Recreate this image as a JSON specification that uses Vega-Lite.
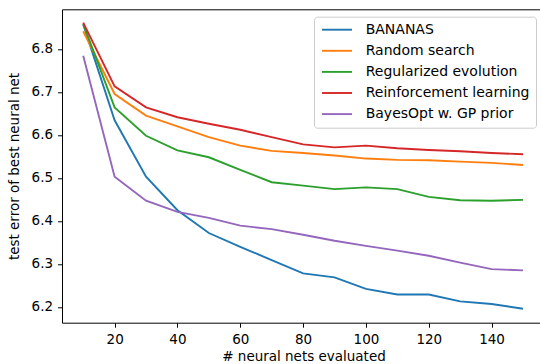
{
  "$schema": "https://vega.github.io/schema/vega-lite/v6.json",
  "autosize": "none",
  "padding": {"left": 62, "top": 9.3, "right": 0, "bottom": 42},
  "width": 483,
  "height": 313.4,
  "background": "white",
  "config": {
    "font": "DejaVu Sans",
    "view": {"stroke": "#000000", "strokeWidth": 1},
    "axis": {
      "domain": false,
      "grid": false,
      "tickColor": "#000000",
      "tickSize": 4.5,
      "tickWidth": 1,
      "labelColor": "#000000",
      "labelFont": "DejaVu Sans",
      "labelFontSize": 13.5,
      "labelPadding": 5,
      "titleColor": "#000000",
      "titleFont": "DejaVu Sans",
      "titleFontSize": 13.5,
      "titleFontWeight": "normal"
    },
    "legend": {
      "labelFont": "DejaVu Sans",
      "labelFontSize": 14,
      "labelColor": "#000000",
      "labelLimit": 400
    }
  },
  "data": {
    "values": [
      {"n": 10, "method": "BANANAS", "err": 6.857},
      {"n": 20, "method": "BANANAS", "err": 6.634},
      {"n": 30, "method": "BANANAS", "err": 6.503},
      {"n": 40, "method": "BANANAS", "err": 6.425},
      {"n": 50, "method": "BANANAS", "err": 6.372},
      {"n": 60, "method": "BANANAS", "err": 6.340},
      {"n": 70, "method": "BANANAS", "err": 6.309},
      {"n": 80, "method": "BANANAS", "err": 6.278},
      {"n": 90, "method": "BANANAS", "err": 6.269},
      {"n": 100, "method": "BANANAS", "err": 6.242},
      {"n": 110, "method": "BANANAS", "err": 6.229},
      {"n": 120, "method": "BANANAS", "err": 6.229},
      {"n": 130, "method": "BANANAS", "err": 6.213},
      {"n": 140, "method": "BANANAS", "err": 6.207},
      {"n": 150, "method": "BANANAS", "err": 6.196},
      {"n": 10, "method": "Random search", "err": 6.841},
      {"n": 20, "method": "Random search", "err": 6.695},
      {"n": 30, "method": "Random search", "err": 6.645},
      {"n": 40, "method": "Random search", "err": 6.620},
      {"n": 50, "method": "Random search", "err": 6.595},
      {"n": 60, "method": "Random search", "err": 6.575},
      {"n": 70, "method": "Random search", "err": 6.563},
      {"n": 80, "method": "Random search", "err": 6.558},
      {"n": 90, "method": "Random search", "err": 6.552},
      {"n": 100, "method": "Random search", "err": 6.545},
      {"n": 110, "method": "Random search", "err": 6.542},
      {"n": 120, "method": "Random search", "err": 6.541},
      {"n": 130, "method": "Random search", "err": 6.538},
      {"n": 140, "method": "Random search", "err": 6.535},
      {"n": 150, "method": "Random search", "err": 6.530},
      {"n": 10, "method": "Regularized evolution", "err": 6.858},
      {"n": 20, "method": "Regularized evolution", "err": 6.664},
      {"n": 30, "method": "Regularized evolution", "err": 6.598},
      {"n": 40, "method": "Regularized evolution", "err": 6.564},
      {"n": 50, "method": "Regularized evolution", "err": 6.548},
      {"n": 60, "method": "Regularized evolution", "err": 6.519},
      {"n": 70, "method": "Regularized evolution", "err": 6.490},
      {"n": 80, "method": "Regularized evolution", "err": 6.482},
      {"n": 90, "method": "Regularized evolution", "err": 6.474},
      {"n": 100, "method": "Regularized evolution", "err": 6.478},
      {"n": 110, "method": "Regularized evolution", "err": 6.474},
      {"n": 120, "method": "Regularized evolution", "err": 6.456},
      {"n": 130, "method": "Regularized evolution", "err": 6.448},
      {"n": 140, "method": "Regularized evolution", "err": 6.447},
      {"n": 150, "method": "Regularized evolution", "err": 6.449},
      {"n": 10, "method": "Reinforcement learning", "err": 6.861},
      {"n": 20, "method": "Reinforcement learning", "err": 6.713},
      {"n": 30, "method": "Reinforcement learning", "err": 6.664},
      {"n": 40, "method": "Reinforcement learning", "err": 6.641},
      {"n": 50, "method": "Reinforcement learning", "err": 6.626},
      {"n": 60, "method": "Reinforcement learning", "err": 6.612},
      {"n": 70, "method": "Reinforcement learning", "err": 6.595},
      {"n": 80, "method": "Reinforcement learning", "err": 6.578},
      {"n": 90, "method": "Reinforcement learning", "err": 6.571},
      {"n": 100, "method": "Reinforcement learning", "err": 6.575},
      {"n": 110, "method": "Reinforcement learning", "err": 6.569},
      {"n": 120, "method": "Reinforcement learning", "err": 6.565},
      {"n": 130, "method": "Reinforcement learning", "err": 6.562},
      {"n": 140, "method": "Reinforcement learning", "err": 6.558},
      {"n": 150, "method": "Reinforcement learning", "err": 6.555},
      {"n": 10, "method": "BayesOpt w. GP prior", "err": 6.784},
      {"n": 20, "method": "BayesOpt w. GP prior", "err": 6.503},
      {"n": 30, "method": "BayesOpt w. GP prior", "err": 6.447},
      {"n": 40, "method": "BayesOpt w. GP prior", "err": 6.421},
      {"n": 50, "method": "BayesOpt w. GP prior", "err": 6.407},
      {"n": 60, "method": "BayesOpt w. GP prior", "err": 6.389},
      {"n": 70, "method": "BayesOpt w. GP prior", "err": 6.381},
      {"n": 80, "method": "BayesOpt w. GP prior", "err": 6.368},
      {"n": 90, "method": "BayesOpt w. GP prior", "err": 6.354},
      {"n": 100, "method": "BayesOpt w. GP prior", "err": 6.342},
      {"n": 110, "method": "BayesOpt w. GP prior", "err": 6.331},
      {"n": 120, "method": "BayesOpt w. GP prior", "err": 6.319},
      {"n": 130, "method": "BayesOpt w. GP prior", "err": 6.303},
      {"n": 140, "method": "BayesOpt w. GP prior", "err": 6.288},
      {"n": 150, "method": "BayesOpt w. GP prior", "err": 6.285}
    ]
  },
  "mark": {"type": "line", "strokeWidth": 1.9, "clip": true},
  "encoding": {
    "x": {
      "field": "n",
      "type": "quantitative",
      "title": "# neural nets evaluated",
      "scale": {"domain": [3.25, 157], "nice": false, "zero": false},
      "axis": {"values": [20, 40, 60, 80, 100, 120, 140], "titlePadding": 4}
    },
    "y": {
      "field": "err",
      "type": "quantitative",
      "title": "test error of best neural net",
      "scale": {"domain": [6.1635, 6.892], "nice": false, "zero": false},
      "axis": {"values": [6.2, 6.3, 6.4, 6.5, 6.6, 6.7, 6.8], "format": ".1f", "titlePadding": 10}
    },
    "color": {
      "field": "method",
      "type": "nominal",
      "sort": ["BANANAS", "Random search", "Regularized evolution", "Reinforcement learning", "BayesOpt w. GP prior"],
      "scale": {
        "domain": ["BANANAS", "Random search", "Regularized evolution", "Reinforcement learning", "BayesOpt w. GP prior"],
        "range": ["#1f77b4", "#ff7f0e", "#2ca02c", "#d62728", "#9467bd"]
      },
      "legend": {
        "title": null,
        "orient": "none",
        "legendX": 252,
        "legendY": 7.4,
        "symbolType": "M-1,0H5",
        "symbolSize": 100,
        "symbolStrokeWidth": 1.9,
        "labelOffset": 31.7,
        "rowPadding": 7.1,
        "padding": 6,
        "strokeColor": "#cccccc",
        "fillColor": "rgba(255,255,255,0.8)",
        "cornerRadius": 3
      }
    },
    "order": {"field": "n", "type": "quantitative"}
  }
}
